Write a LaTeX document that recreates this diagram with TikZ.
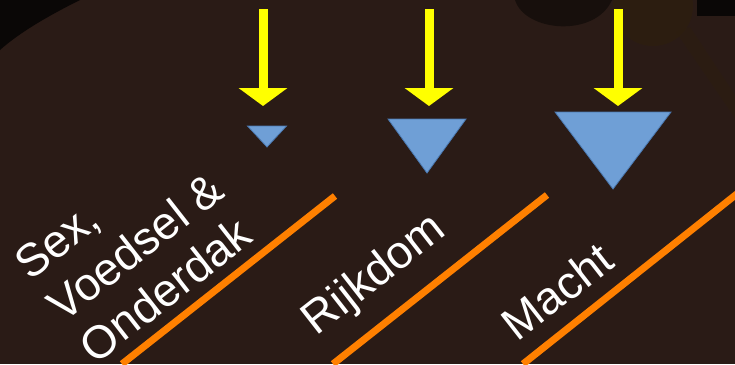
\documentclass[tikz,border=0pt]{standalone}
\usepackage{fontspec}
\setmainfont{Liberation Sans}
\usepackage{tikz}
\usetikzlibrary{arrows.meta}

\definecolor{bgbrown}{HTML}{2A1B16}
\definecolor{sunbrown}{HTML}{2E1F0E}
\definecolor{arrowyellow}{HTML}{FFFF00}
\definecolor{triblue}{HTML}{6F9FD6}
\definecolor{triedge}{HTML}{4A78B0}
\definecolor{lineorange}{HTML}{FF8000}

\tikzset{
  yarrow/.style={arrowyellow, line width=9pt, -{Triangle[width=48pt,length=18pt]}},
  level/.style={triblue, draw=triedge, line width=.8pt},
  stair/.style={lineorange, line width=7pt},
  label/.style={white, rotate=38, font=\fontsize{46}{53}\selectfont}
}

\begin{document}
\begin{tikzpicture}[x=1pt, y=-1pt]

    % Background
    \fill[bgbrown] (0,0) rectangle (735,364);
    \useasboundingbox (0,0) rectangle (735,364);
    \fill[black!75!bgbrown] (0,0) -- (80,0) .. controls (50,15) and (20,32) .. (0,50) -- cycle;
    \fill[black!45!bgbrown] (515,0) .. controls (525,32) and (595,38) .. (612,0) -- cycle;
    \fill[sunbrown, opacity=.7] (653,6) circle (40);
    \fill[sunbrown, opacity=.4] (676,32) -- (690,27) -- (735,95) -- (735,118) -- cycle;
    \fill[black!75!bgbrown] (697,0) rectangle (735,16);

    % Stairs
    \coordinate (s1) at (335,196);
    \coordinate (e1) at (122,364);
    \coordinate (s2) at (547,195);
    \coordinate (e2) at (333,364);
    \coordinate (s3) at (738,193);
    \coordinate (e3) at (523,364);
    \foreach \i in {1,2,3} {
      \draw[stair] (s\i) -- (e\i);
    }

    % Triangles and arrows
    \foreach \n/\cx/\top/\w/\h in {1/267/126/39/21, 2/427/119/78/54, 3/613/112/116/77} {
      \coordinate (tip\n) at (\cx,\top+\h);
      \fill[level] (\cx-\w/2,\top) -- (\cx+\w/2,\top) -- (tip\n) -- cycle;
    }
    \foreach \n/\ax in {1/263, 2/429, 3/618} {
      \coordinate (from\n) at (\ax,9);
      \coordinate (to\n) at (\ax,106);
      \draw[yarrow] (from\n) -- (to\n);
    }

    % Labels
    \node[label, align=left] (basic) at (135,247) {Sex,\\Voedsel \&\\Onderdak};
    \node[label] (wealth) at (375,276) {Rijkdom};
    \node[label] (power) at (557,291) {Macht};

\end{tikzpicture}
\end{document}
